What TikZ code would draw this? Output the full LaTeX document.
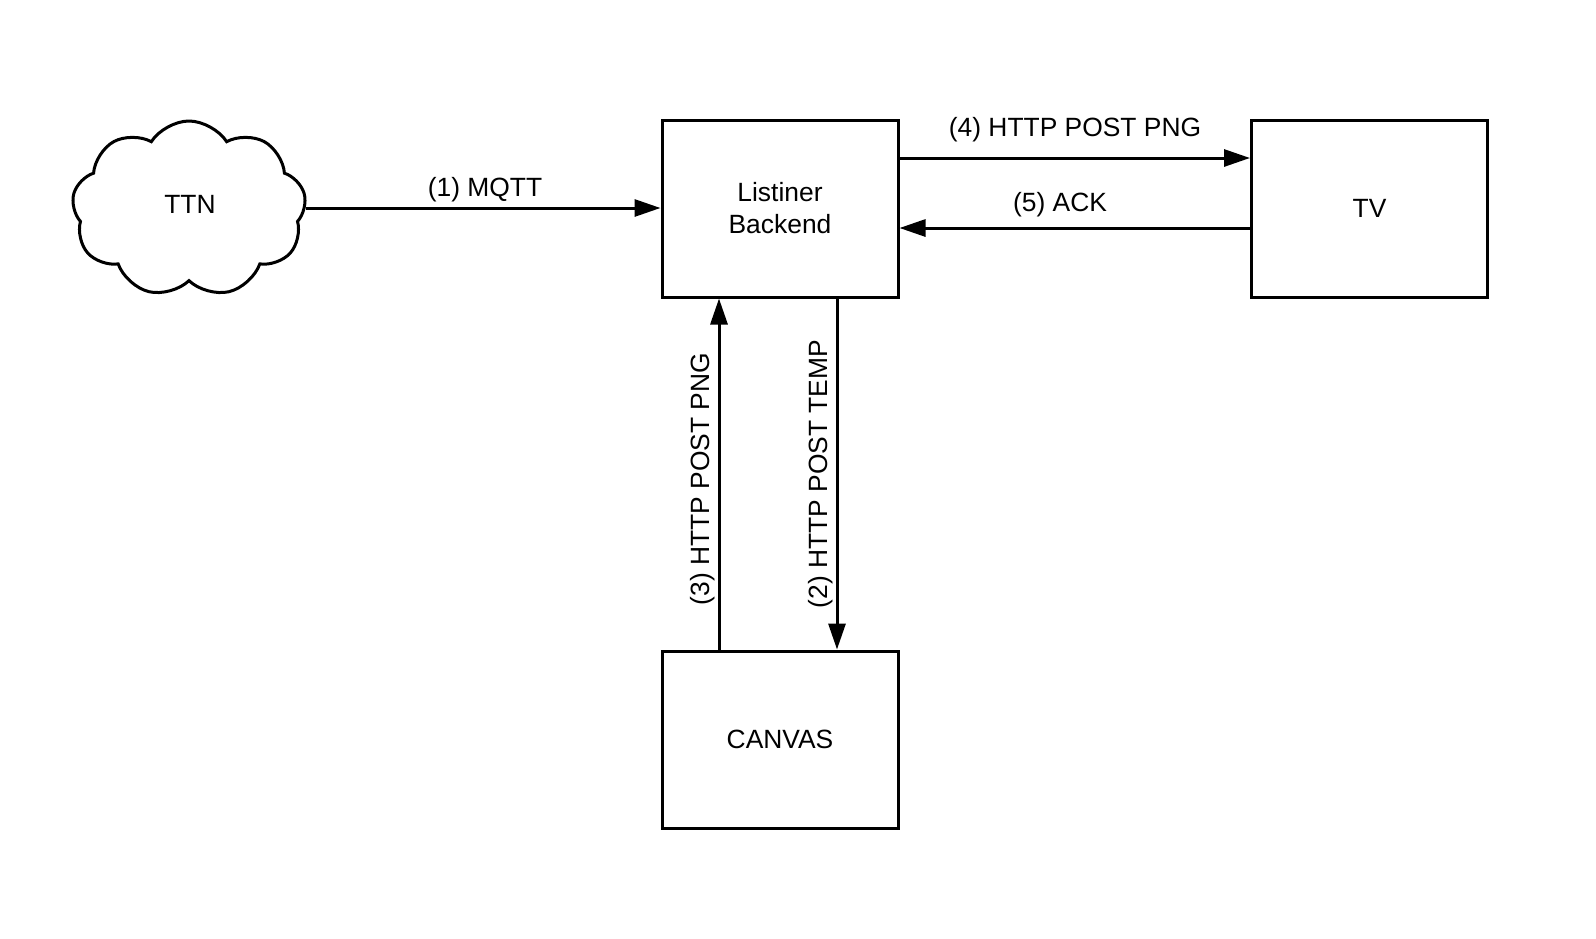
\documentclass[tikz,border=0pt]{standalone}
\usepackage{fontspec}
\setmainfont{Liberation Sans}
\usetikzlibrary{arrows.meta,shapes.symbols}
\begin{document}
\begin{tikzpicture}[x=1pt,y=-1pt,
  every node/.style={font=\fontsize{26.4}{32}\selectfont},
  boxn/.style={draw,line width=3pt,minimum width=236pt,minimum height=177pt,inner sep=0pt,align=center},
  conn/.style={line width=3pt,-{Triangle[length=26pt,width=17pt]}},
  lbl/.style={inner sep=0pt}]
\useasboundingbox (0,0) rectangle (1596,938);
\node[boxn] (lb) at (780,208.5) {Listiner\\Backend};
\node[boxn] (tv) at (1369.5,208.5) {TV};
\node[boxn] (cv) at (780,739.5) {CANVAS};
\node[draw,line width=3pt,cloud,cloud puffs=9,cloud puff arc=115,aspect=1.35,minimum width=234pt,minimum height=176pt,inner sep=0pt] (ttn) at (189,209) {};
\node[lbl] at (190,204) {TTN};
\draw[conn] (ttn.east |- 0,208) -- (lb.west |- 0,208);
\draw[conn] (lb.east |- 0,158) -- (tv.west |- 0,158);
\draw[conn] (tv.west |- 0,228) -- (lb.east |- 0,228);
\draw[conn] (cv.north -| 719,0) -- (lb.south -| 719,0);
\draw[conn] (lb.south -| 837,0) -- (cv.north -| 837,0);
\node[lbl] at (485,190) {(1) MQTT};
\node[lbl] at (1075,130) {(4) HTTP POST PNG};
\node[lbl] at (1060,205) {(5) ACK};
\node[lbl,rotate=90] at (703,479) {(3) HTTP POST PNG};
\node[lbl,rotate=90] at (821,474) {(2) HTTP POST TEMP};
\end{tikzpicture}
\end{document}
